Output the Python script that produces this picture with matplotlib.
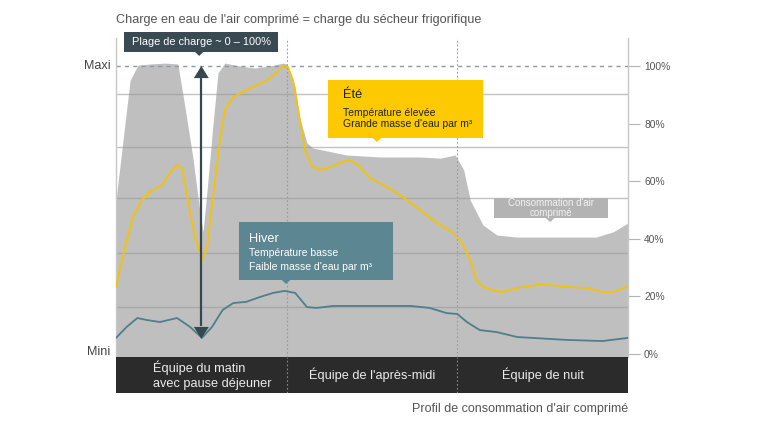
import matplotlib
matplotlib.use("Agg")
import matplotlib.pyplot as plt
from matplotlib.patches import Rectangle, Polygon

plt.rcParams['font.family'] = ['Liberation Sans', 'DejaVu Sans']

# ---- data (x in hours of the day 0..24, y in % load) ----
cons_x = [0, 0.66, 1.03, 1.6, 2.3, 2.9, 3.23, 3.6, 3.94, 4.08, 4.27, 4.55, 4.78, 5.1,
          5.8, 6.5, 7.2, 7.83, 8.0, 8.4, 8.6, 8.95, 9.23, 9.7, 10.8, 12.4, 14.25, 15.2,
          15.9, 16.3, 16.6, 17.2, 17.86, 18.8, 20.3, 22.5, 23.3, 24]
cons_y = [53.5, 95, 100.3, 100.7, 101, 100.7, 85.8, 68.4, 49, 42.4, 57, 80, 97.6, 101,
          100, 99.3, 100, 101, 100.7, 92.7, 82.3, 73.3, 71.5, 70.8, 69.1, 68.4, 68.4, 68,
          69.1, 63.9, 53.5, 44.8, 41.3, 40.6, 40.6, 40.6, 42.4, 45.5]

summer_x = [0, 0.42, 0.8, 1.22, 1.6, 2.16, 2.53, 2.86, 3.1, 3.37, 3.7, 4.03, 4.27, 4.55,
            4.88, 5.1, 5.5, 5.95, 6.6, 7.1, 7.55, 7.83, 8.06, 8.3, 8.6, 8.86, 9.2, 9.56,
            10.1, 10.6, 10.97, 11.44, 11.9, 12.7, 13.45, 14.25, 15.05, 15.75, 16.2, 16.6,
            16.9, 17.2, 17.67, 18.1, 18.8, 20.0, 21.1, 22.1, 22.8, 23.3, 24]
summer_y = [23.3, 37, 47.6, 53.5, 56.3, 58.7, 62.8, 65.6, 64.6, 53.5, 40.6, 32.6, 37, 54.5,
            74.3, 84.7, 89.2, 91, 93.4, 95.1, 97.9, 100, 99.7, 95, 82.3, 70.8, 65, 63.9,
            65, 66.7, 67.4, 65, 61.1, 58, 54.5, 50, 45.5, 42.4, 38.9, 32.6,
            25.7, 23.3, 22.2, 21.5, 22.9, 24.3, 23.3, 22.9, 21.5, 21.5, 23.6]

winter_x = [0, 0.5, 1.0, 1.45, 2.06, 2.86, 3.47, 4.03, 4.5, 5.0, 5.5, 6.1, 6.75, 7.36,
            7.9, 8.4, 8.95, 9.4, 10.2, 11.6, 13.8, 14.7, 15.5, 16.0, 16.45, 16.9, 17.06,
            17.86, 18.8, 19.5, 21.1, 22.8, 24]
winter_y = [5.6, 9.4, 12.5, 11.8, 11.1, 12.5, 9.4, 5.6, 9.4, 15.3, 17.7, 18.1, 19.8, 21.2,
            21.9, 21.2, 16.3, 16.0, 16.7, 16.7, 16.7, 16.0, 14.2, 13.9, 11.1, 9.0, 8.3,
            7.6, 5.9, 5.6, 4.9, 4.5, 5.6]

tick_vals = [0, 20, 40, 60, 80, 100]
tick_labels = ['0%', '20%', '40%', '60%', '80%', '100%']
grid_vals = [16.3, 35.1, 54.2, 71.9, 90.3]
shift_bounds = [8, 16]
shift_labels = ["Équipe du matin\navec pause déjeuner", "Équipe de l'après-midi", "Équipe de nuit"]
shift_centers = [4.5, 12, 20]

# ---- figure ----
W, H = 770, 433
fig = plt.figure(figsize=(W / 100, H / 100), dpi=100)
fig.patch.set_facecolor('white')

def fx(px):
    return px / W

def fy(py):
    return 1 - py / H

ax = fig.add_axes([fx(116), fy(357), fx(628) - fx(116), fy(38) - fy(357)])
ax.set_xlim(0, 24)
ax.set_ylim(-1.04, 109.72)

ax.fill_between(cons_x, -1.04, cons_y, color='#bfbfbf', lw=0, zorder=1)
for g in grid_vals:
    ax.axhline(g, color='#9a9a9a', alpha=0.6, lw=1.0, zorder=2)
ax.axhline(100, color='#8c9aa1', lw=1.0, ls=(0, (3, 3)), zorder=2)
for b in shift_bounds:
    ax.axvline(b, color='#9a9a9a', lw=0.8, ls=(0, (1.5, 2)), zorder=2)

ax.plot(summer_x, summer_y, color='#f5c400', lw=1.3, zorder=4)
ax.plot(winter_x, winter_y, color='#4e7f8b', lw=1.3, zorder=4)

# spines / ticks
for s in ['top', 'bottom']:
    ax.spines[s].set_visible(False)
for s in ['left', 'right']:
    ax.spines[s].set_color('#c8c8c8')
    ax.spines[s].set_linewidth(1.0)
ax.set_xticks([])
ax.yaxis.tick_right()
ax.set_yticks(tick_vals)
ax.set_yticklabels(tick_labels)
ax.tick_params(axis='y', length=8.6, width=0.8, color='#b5b5b5', pad=3,
               labelsize=7.4, labelcolor='#555555')

ax.text(-0.25, 100, 'Maxi', ha='right', va='center', fontsize=9.1, color='#444444', clip_on=False)
ax.text(-0.25, 0.7, 'Mini', ha='right', va='center', fontsize=9.1, color='#444444', clip_on=False)

# double-headed arrow (load range)
ac = '#37474f'
ax.plot([4.0, 4.0], [96, 9.6], color=ac, lw=1.6, zorder=6, solid_capstyle='butt')
ax.add_patch(Polygon([[3.65, 95.8], [4.35, 95.8], [4.0, 100]], closed=True, fc=ac, ec='none', zorder=6))
ax.add_patch(Polygon([[3.65, 9.4], [4.35, 9.4], [4.0, 5.3]], closed=True, fc=ac, ec='none', zorder=6))

def box(x0, x1, y0, y1, color, ptr_x, zorder=7):
    ax.add_patch(Rectangle((x0, y0), x1 - x0, y1 - y0, fc=color, ec='none',
                           zorder=zorder, clip_on=False))
    ax.add_patch(Polygon([[ptr_x - 0.2, y0], [ptr_x + 0.2, y0], [ptr_x, y0 - 1.4]],
                         closed=True, fc=color, ec='none', zorder=zorder, clip_on=False))

# dark range box
box(0.375, 7.59, 104.9, 111.8, '#3a4a52', 3.9)
ax.text(4.0, 108.3, 'Plage de charge ~ 0 – 100%', ha='center', va='center',
        fontsize=7.9, color='white', zorder=8, clip_on=False)

# summer box
box(9.94, 17.2, 75.0, 95.1, '#fdc900', 12.23)
ax.text(10.64, 90.0, 'Été', ha='left', va='center', fontsize=9.2, color='#222222', zorder=8)
ax.text(10.64, 83.6, 'Température élevée', ha='left', va='center', fontsize=7.5, color='#222222', zorder=8)
ax.text(10.64, 79.8, "Grande masse d'eau par m³", ha='left', va='center', fontsize=7.5, color='#222222', zorder=8)

# winter box
box(5.77, 12.98, 25.7, 45.8, '#5b8692', 7.97)
ax.text(6.23, 40.1, 'Hiver', ha='left', va='center', fontsize=9.2, color='white', zorder=8)
ax.text(6.23, 35.0, 'Température basse', ha='left', va='center', fontsize=7.5, color='white', zorder=8)
ax.text(6.23, 30.1, "Faible masse d'eau par m³", ha='left', va='center', fontsize=7.5, color='white', zorder=8)

# consumption label
box(17.72, 23.06, 47.2, 54.2, '#b3b3b3', 20.35)
ax.text(20.39, 50.7, "Consommation d'air\ncomprimé", ha='center', va='center',
        fontsize=7.0, color='#f2f2f2', linespacing=0.95, zorder=8)

# shift band
band = fig.add_axes([fx(116), fy(393), fx(628) - fx(116), fy(357) - fy(393)])
band.set_xlim(0, 24)
band.set_ylim(0, 1)
band.set_facecolor('#2b2b2b')
for s in band.spines.values():
    s.set_visible(False)
band.set_xticks([])
band.set_yticks([])
for b in shift_bounds:
    band.axvline(b, color='#8a8a8a', lw=0.8, ls=(0, (1.5, 2)))
for c, lab in zip(shift_centers, shift_labels):
    band.text(c, 0.5, lab, ha='center', va='center', multialignment='left',
              fontsize=9.2, color='#ececec', linespacing=1.35)

fig.text(fx(116), fy(20), "Charge en eau de l'air comprimé = charge du sécheur frigorifique",
         ha='left', va='center', fontsize=9.1, color='#555555')
fig.text(fx(628), fy(409), "Profil de consommation d'air comprimé",
         ha='right', va='center', fontsize=9.0, color='#555555')

fig.savefig('out.png', dpi=100, facecolor='white')
